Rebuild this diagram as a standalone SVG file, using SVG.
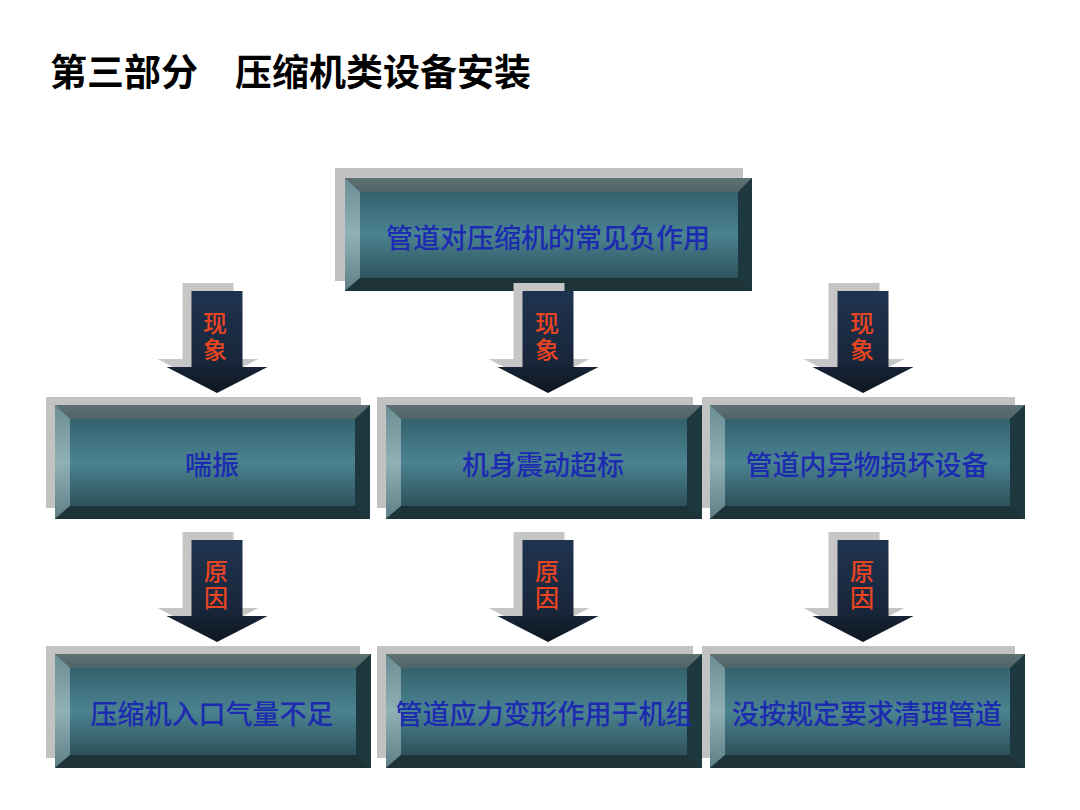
<svg xmlns="http://www.w3.org/2000/svg" width="1080" height="810" viewBox="0 0 1080 810">
<style>
.title{font-family:"Noto Sans CJK SC","Noto Sans",sans-serif;font-weight:bold;font-size:37px;fill:#000}
.lbl{font-family:"Noto Sans CJK SC","Noto Sans",sans-serif;font-weight:500;font-size:27px;fill:#1c2bb0;text-anchor:middle;dominant-baseline:central}
.atxt{font-family:"Noto Sans CJK SC","Noto Sans",sans-serif;font-weight:500;font-size:24px;fill:#ea4522;text-anchor:middle;writing-mode:vertical-rl;letter-spacing:3px}
.shadow{fill:#c2c2c2}
.face{fill:url(#gFace)}
.bt{fill:url(#gTop)}
.bl{fill:url(#gLeft)}
.br{fill:#1d383e}
.bb{fill:#1e3337}
.arr{fill:url(#gArr)}
.arrs{fill:#c6c6c6}
</style>
<defs>
<linearGradient id="gFace" x1="0" y1="0" x2="0" y2="1">
<stop offset="0" stop-color="#2c5662"/>
<stop offset="0.5" stop-color="#4b8391"/>
<stop offset="1" stop-color="#25434b"/>
</linearGradient>
<linearGradient id="gTop" x1="0" y1="0" x2="0" y2="1">
<stop offset="0" stop-color="#5f7273"/>
<stop offset="1" stop-color="#4f6466"/>
</linearGradient>
<linearGradient id="gLeft" x1="0" y1="0" x2="0" y2="1">
<stop offset="0" stop-color="#6b8d93"/>
<stop offset="0.5" stop-color="#8fb0b5"/>
<stop offset="1" stop-color="#5e7f85"/>
</linearGradient>
<linearGradient id="gArr" x1="0" y1="0" x2="0" y2="1">
<stop offset="0" stop-color="#1f3350"/>
<stop offset="0.7" stop-color="#18263a"/>
<stop offset="1" stop-color="#0e1620"/>
</linearGradient>
<path id="arrow" d="M-25.5,0 H25.5 V76 H50.5 L0,102 L-50.5,76 H-25.5 Z"/>
</defs>

<text class="title" x="50" y="70" dominant-baseline="central">第三部分　压缩机类设备安装</text>

<g id="node-top">
<rect class="shadow" x="335" y="168" width="408" height="113"/>
<rect class="face" x="345" y="178" width="407" height="113"/>
<polygon class="bt" points="345,178 752,178 738,192 360,192"/>
<polygon class="bl" points="345,178 360,192 360,278 345,291"/>
<polygon class="br" points="752,178 752,291 738,278 738,192"/>
<polygon class="bb" points="345,291 360,278 738,278 752,291"/>
<text class="lbl" x="548" y="236">管道对压缩机的常见负作用</text>
</g>

<g id="node-b1">
<rect class="shadow" x="46" y="397" width="315" height="111"/>
<rect class="face" x="55" y="405" width="315" height="114"/>
<polygon class="bt" points="55,405 370,405 355,419 70,419"/>
<polygon class="bl" points="55,405 70,419 70,506 55,519"/>
<polygon class="br" points="370,405 370,519 355,506 355,419"/>
<polygon class="bb" points="55,519 70,506 355,506 370,519"/>
<text class="lbl" x="212" y="463">喘振</text>
</g>

<g id="node-b2">
<rect class="shadow" x="377" y="397" width="316" height="111"/>
<rect class="face" x="386" y="405" width="316" height="114"/>
<polygon class="bt" points="386,405 702,405 687,419 401,419"/>
<polygon class="bl" points="386,405 401,419 401,506 386,519"/>
<polygon class="br" points="702,405 702,519 687,506 687,419"/>
<polygon class="bb" points="386,519 401,506 687,506 702,519"/>
<text class="lbl" x="543" y="463">机身震动超标</text>
</g>

<g id="node-b3">
<rect class="shadow" x="702" y="397" width="313" height="111"/>
<rect class="face" x="710" y="405" width="315" height="114"/>
<polygon class="bt" points="710,405 1025,405 1010,419 725,419"/>
<polygon class="bl" points="710,405 725,419 725,506 710,519"/>
<polygon class="br" points="1025,405 1025,519 1010,506 1010,419"/>
<polygon class="bb" points="710,519 725,506 1010,506 1025,519"/>
<text class="lbl" x="867" y="463">管道内异物损坏设备</text>
</g>

<g id="node-c1">
<rect class="shadow" x="46" y="646" width="314" height="112"/>
<rect class="face" x="55" y="654" width="316" height="114"/>
<polygon class="bt" points="55,654 371,654 356,668 70,668"/>
<polygon class="bl" points="55,654 70,668 70,755 55,768"/>
<polygon class="br" points="371,654 371,768 356,755 356,668"/>
<polygon class="bb" points="55,768 70,755 356,755 371,768"/>
<text class="lbl" x="212" y="712">压缩机入口气量不足</text>
</g>

<g id="node-c2">
<rect class="shadow" x="377" y="646" width="316" height="112"/>
<rect class="face" x="386" y="654" width="316" height="114"/>
<polygon class="bt" points="386,654 702,654 687,668 401,668"/>
<polygon class="bl" points="386,654 401,668 401,755 386,768"/>
<polygon class="br" points="702,654 702,768 687,755 687,668"/>
<polygon class="bb" points="386,768 401,755 687,755 702,768"/>
<text class="lbl" x="544" y="712">管道应力变形作用于机组</text>
</g>

<g id="node-c3">
<rect class="shadow" x="702" y="646" width="313" height="112"/>
<rect class="face" x="710" y="654" width="315" height="114"/>
<polygon class="bt" points="710,654 1025,654 1010,668 725,668"/>
<polygon class="bl" points="710,654 725,668 725,755 710,768"/>
<polygon class="br" points="1025,654 1025,768 1010,755 1010,668"/>
<polygon class="bb" points="710,768 725,755 1010,755 1025,768"/>
<text class="lbl" x="867" y="712">没按规定要求清理管道</text>
</g>

<g id="connectors">
<g id="arrow-a1">
<use href="#arrow" class="arrs" transform="translate(208,283)"/>
<use href="#arrow" class="arr" transform="translate(217,291)"/>
<text class="atxt" x="215" y="338">现象</text>
</g>
<g id="arrow-a2">
<use href="#arrow" class="arrs" transform="translate(539,283)"/>
<use href="#arrow" class="arr" transform="translate(548,291)"/>
<text class="atxt" x="547" y="338">现象</text>
</g>
<g id="arrow-a3">
<use href="#arrow" class="arrs" transform="translate(854,283)"/>
<use href="#arrow" class="arr" transform="translate(863,291)"/>
<text class="atxt" x="862" y="338">现象</text>
</g>
<g id="arrow-b1">
<use href="#arrow" class="arrs" transform="translate(208,532)"/>
<use href="#arrow" class="arr" transform="translate(217,540)"/>
<text class="atxt" x="216" y="586">原因</text>
</g>
<g id="arrow-b2">
<use href="#arrow" class="arrs" transform="translate(539,532)"/>
<use href="#arrow" class="arr" transform="translate(548,540)"/>
<text class="atxt" x="547" y="586">原因</text>
</g>
<g id="arrow-b3">
<use href="#arrow" class="arrs" transform="translate(854,532)"/>
<use href="#arrow" class="arr" transform="translate(863,540)"/>
<text class="atxt" x="862" y="586">原因</text>
</g>
</g>
</svg>
